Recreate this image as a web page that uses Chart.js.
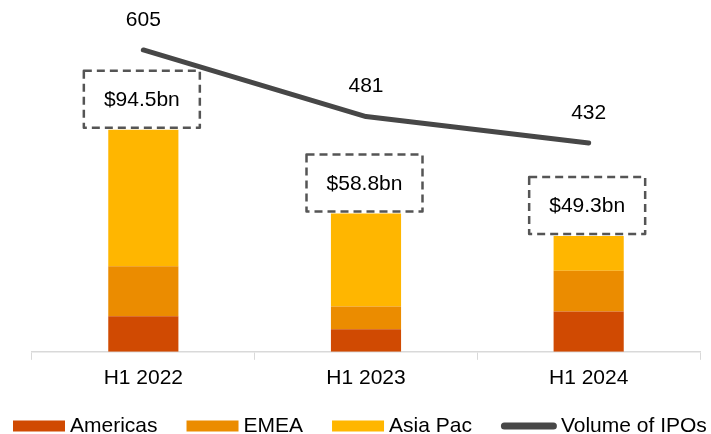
<!DOCTYPE html>
<html>
<head>
<meta charset="utf-8">
<script src="https://cdn.jsdelivr.net/npm/chart.js@4.4.1/dist/chart.umd.min.js"></script>
<style>
  html, body { margin: 0; padding: 0; background: #fff; }
  #wrap { position: relative; width: 711px; height: 434px; }
</style>
</head>
<body>
<div id="wrap"><canvas id="ipoChart"></canvas></div>
<script>
/* ── Dati ─────────────────────────────────────────── */
var periods     = ['H1 2022', 'H1 2023', 'H1 2024'];
var americas    = [15.1, 9.6, 17.1];
var emea        = [21.3, 9.7, 17.4];
var asiaPac     = [58.1, 39.5, 14.8];
var ipoVolume   = [605, 481, 432];
var seriesNames = ['Americas', 'EMEA', 'Asia Pac', 'Volume of IPOs'];
var seriesColors = ['#D04A02', '#EB8C00', '#FFB600', '#474747'];

var FONT_FAMILY = "'Liberation Sans', Arial, sans-serif";
var FONT = '21px ' + FONT_FAMILY;

Chart.defaults.font.family = FONT_FAMILY;
Chart.defaults.font.size   = 21;
Chart.defaults.color       = '#000';

/* ── Etichette: volumi, box totali, legenda ───────── */
var overlayPlugin = {
  id: 'overlay',
  afterDatasetsDraw: function(chart) {
    var ctx = chart.ctx;
    ctx.save();
    ctx.font = FONT;
    ctx.textAlign = 'center';
    ctx.textBaseline = 'middle';
    ctx.fillStyle = '#000';

    // numeri sopra la linea
    chart.getDatasetMeta(3).data.forEach(function(pt, i) {
      ctx.fillText(String(ipoVolume[i]), pt.x, pt.y - 30);
    });

    // box tratteggiati con il totale
    chart.getDatasetMeta(2).data.forEach(function(bar, i) {
      var total = americas[i] + emea[i] + asiaPac[i];
      var w = 116, h = 57;
      var x = bar.x - 1.5 - w / 2;
      var y = bar.y - 2 - h;
      ctx.setLineDash([8, 5]);
      ctx.lineWidth = 2.5;
      ctx.lineJoin = 'round';
      ctx.strokeStyle = '#555';
      ctx.strokeRect(x, y, w, h);
      ctx.setLineDash([]);
      ctx.fillStyle = '#000';
      ctx.fillText('$' + total.toFixed(1) + 'bn', x + w / 2, y + h / 2 + 1);
    });
    ctx.restore();
  },
  afterDraw: function(chart) {
    var ctx = chart.ctx;
    ctx.save();
    ctx.font = FONT;
    ctx.textAlign = 'left';
    ctx.textBaseline = 'middle';
    var cy = 426;
    var x = 13;
    seriesNames.forEach(function(name, i) {
      if (i < 3) {
        ctx.fillStyle = seriesColors[i];
        ctx.fillRect(x, cy - 5.5, 52, 11);
        x += 52 + 5;
      } else {
        ctx.strokeStyle = seriesColors[i];
        ctx.lineWidth = 7;
        ctx.lineCap = 'round';
        ctx.beginPath();
        ctx.moveTo(x + 3.5, cy);
        ctx.lineTo(x + 52.5, cy);
        ctx.stroke();
        x += 56 + 4;
      }
      ctx.fillStyle = '#000';
      ctx.fillText(name, x, cy);
      x += ctx.measureText(name).width + 29;
    });
    ctx.restore();
  }
};

/* ── Grafico ──────────────────────────────────────── */
var barDefaults = { barPercentage: 0.315, categoryPercentage: 1, borderWidth: 0, order: 1, yAxisID: 'y' };

new Chart(document.getElementById('ipoChart'), {
  type: 'bar',
  data: {
    labels: periods,
    datasets: [
      Object.assign({ label: seriesNames[0], data: americas, backgroundColor: seriesColors[0] }, barDefaults),
      Object.assign({ label: seriesNames[1], data: emea,     backgroundColor: seriesColors[1] }, barDefaults),
      Object.assign({ label: seriesNames[2], data: asiaPac,  backgroundColor: seriesColors[2] }, barDefaults),
      {
        type: 'line',
        label: seriesNames[3],
        data: ipoVolume,
        yAxisID: 'y1',
        borderColor: seriesColors[3],
        backgroundColor: seriesColors[3],
        borderWidth: 5,
        borderCapStyle: 'round',
        borderJoinStyle: 'round',
        pointRadius: 0,
        tension: 0,
        order: 0,
      },
    ],
  },
  options: {
    responsive: true,
    maintainAspectRatio: false,
    animation: false,
    layout: { padding: { left: 32, right: 11, top: 10, bottom: 37 } },
    plugins: {
      legend:  { display: false },
      tooltip: { enabled: false },
    },
    scales: {
      x: {
        stacked: true,
        grid:   { drawOnChartArea: false, drawTicks: true, tickLength: 8, color: '#d9d9d9', offset: true },
        border: { color: '#d9d9d9', width: 1.5 },
        ticks:  { padding: 6, font: { size: 21 }, color: '#000' },
      },
      y: {
        stacked: true,
        display: false,
        min: 0,
        max: 145.4,
      },
      y1: {
        display: false,
        stacked: false,
        min: 43.2,
        max: 679.4,
      },
    },
  },
  plugins: [overlayPlugin],
});
</script>
</body>
</html>
